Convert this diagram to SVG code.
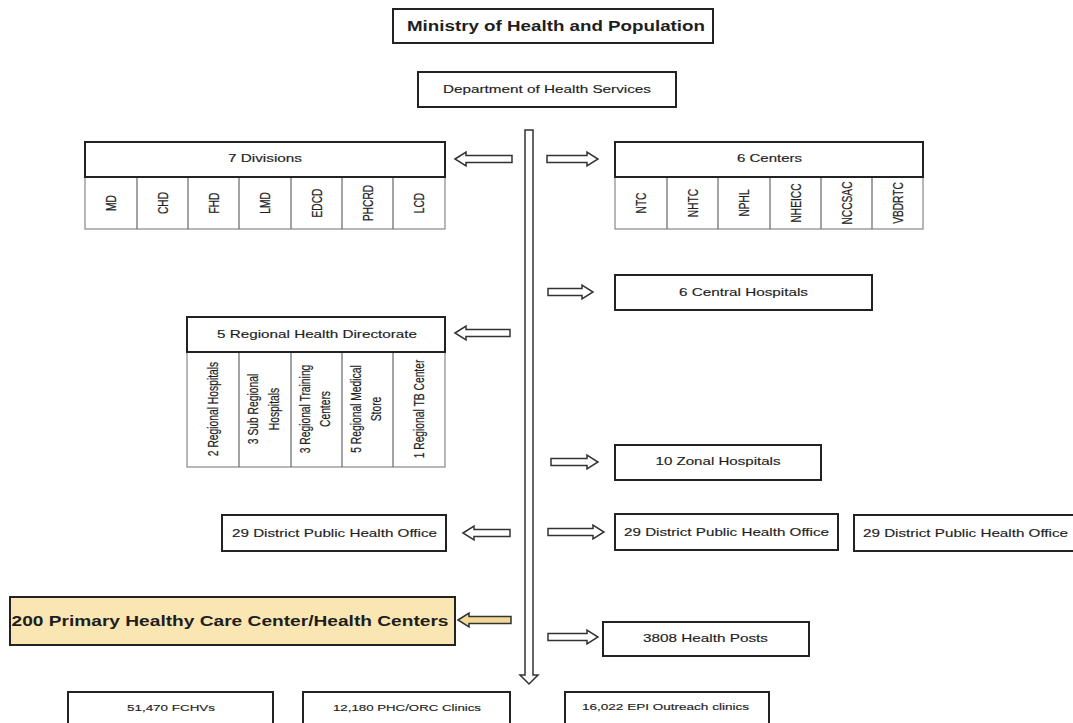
<svg xmlns="http://www.w3.org/2000/svg" width="1073" height="723" viewBox="0 0 1073 723">
<style>
  .box{fill:#fff;stroke:#222;stroke-width:2}
  .ybox{fill:#f9e6b3;stroke:#222;stroke-width:2}
  .grid{fill:#fff;stroke:#888;stroke-width:1.2}
  .div{stroke:#666;stroke-width:1.2}
  .arr{fill:#fff;stroke:#333;stroke-width:1.5;stroke-linejoin:miter}
  .yarr{fill:#f3d998;stroke:#333;stroke-width:1.5}
  text{font-family:"Liberation Sans",Arial,sans-serif;fill:#1e1e1e;stroke:#1e1e1e;stroke-width:0.15}
  .t{font-size:11.6px;text-anchor:middle}
  .b{font-weight:bold;stroke-width:0}
  .s{font-size:9.4px;text-anchor:middle}
  .r{font-size:10.2px;text-anchor:middle}
</style>
<rect width="1073" height="723" fill="#fff"/>

<g id="connectors">
  <path class="arr" d="M525,130 H533 V675 H538 L529,684 L520,675 H525 Z"/>
  <polygon class="arr" points="455,159 466,152 466,155.5 512,155.5 512,162.5 466,162.5 466,166"/>
  <polygon class="arr" points="455,333 466,326 466,329.5 510,329.5 510,336.5 466,336.5 466,340"/>
  <polygon class="arr" points="463,533 474,526 474,529.5 510,529.5 510,536.5 474,536.5 474,540"/>
  <polygon class="yarr" points="458,620 469,613 469,616.5 511,616.5 511,623.5 469,623.5 469,627"/>
  <polygon class="arr" points="547,155.5 587,155.5 587,152 598,159 587,166 587,162.5 547,162.5"/>
  <polygon class="arr" points="548,288.5 582,288.5 582,285 593,292 582,299 582,295.5 548,295.5"/>
  <polygon class="arr" points="551,458.5 587,458.5 587,455 598,462 587,469 587,465.5 551,465.5"/>
  <polygon class="arr" points="548,528.5 593,528.5 593,525 604,532 593,539 593,535.5 548,535.5"/>
  <polygon class="arr" points="548,633.5 587,633.5 587,630 598,637 587,644 587,640.5 548,640.5"/>
</g>

<g id="ministry">
  <rect class="box" x="393" y="9" width="320" height="34"/>
  <text class="t b" x="556" y="31" style="font-size:14.5px" textLength="298" lengthAdjust="spacingAndGlyphs">Ministry of Health and Population</text>
</g>

<g id="dohs">
  <rect class="box" x="418" y="72" width="258" height="35"/>
  <text class="t" x="547" y="93" textLength="208" lengthAdjust="spacingAndGlyphs">Department of Health Services</text>
</g>

<g id="divisions">
  <rect class="grid" x="85" y="177" width="360" height="52"/>
  <line class="div" x1="137" y1="177" x2="137" y2="229"/>
  <line class="div" x1="188" y1="177" x2="188" y2="229"/>
  <line class="div" x1="239" y1="177" x2="239" y2="229"/>
  <line class="div" x1="291" y1="177" x2="291" y2="229"/>
  <line class="div" x1="342" y1="177" x2="342" y2="229"/>
  <line class="div" x1="393" y1="177" x2="393" y2="229"/>
  <rect class="box" x="85" y="142" width="360" height="35"/>
  <text class="t" x="265" y="162" style="font-size:10.8px" textLength="74" lengthAdjust="spacingAndGlyphs">7 Divisions</text>
  <text class="r" transform="translate(116,203) rotate(-90) scale(1,1.4)">MD</text>
  <text class="r" transform="translate(167.5,203) rotate(-90) scale(1,1.4)">CHD</text>
  <text class="r" transform="translate(218.5,203) rotate(-90) scale(1,1.4)">FHD</text>
  <text class="r" transform="translate(270,203) rotate(-90) scale(1,1.4)">LMD</text>
  <text class="r" transform="translate(321.5,203) rotate(-90) scale(1,1.4)">EDCD</text>
  <text class="r" transform="translate(372.5,203) rotate(-90) scale(1,1.4)">PHCRD</text>
  <text class="r" transform="translate(424,203) rotate(-90) scale(1,1.4)">LCD</text>
</g>

<g id="centers">
  <rect class="grid" x="615" y="177" width="308" height="52"/>
  <line class="div" x1="667" y1="177" x2="667" y2="229"/>
  <line class="div" x1="718" y1="177" x2="718" y2="229"/>
  <line class="div" x1="770" y1="177" x2="770" y2="229"/>
  <line class="div" x1="821" y1="177" x2="821" y2="229"/>
  <line class="div" x1="872" y1="177" x2="872" y2="229"/>
  <rect class="box" x="615" y="142" width="308" height="35"/>
  <text class="t" x="769.5" y="162" style="font-size:10.8px" textLength="65" lengthAdjust="spacingAndGlyphs">6 Centers</text>
  <text class="r" transform="translate(646,203) rotate(-90) scale(1,1.4)">NTC</text>
  <text class="r" transform="translate(697.5,203) rotate(-90) scale(1,1.4)">NHTC</text>
  <text class="r" transform="translate(749,203) rotate(-90) scale(1,1.4)">NPHL</text>
  <text class="r" transform="translate(800.5,203) rotate(-90) scale(1,1.4)">NHEICC</text>
  <text class="r" transform="translate(851.5,203) rotate(-90) scale(1,1.4)">NCCSAC</text>
  <text class="r" transform="translate(902.5,203) rotate(-90) scale(1,1.4)">VBDRTC</text>
</g>

<g id="central-hospitals">
  <rect class="box" x="615" y="275" width="257" height="35"/>
  <text class="t" x="743.5" y="296" textLength="129" lengthAdjust="spacingAndGlyphs">6 Central Hospitals</text>
</g>

<g id="regional">
  <rect class="grid" x="187" y="352" width="258" height="115"/>
  <line class="div" x1="239" y1="352" x2="239" y2="467"/>
  <line class="div" x1="291" y1="352" x2="291" y2="467"/>
  <line class="div" x1="342" y1="352" x2="342" y2="467"/>
  <line class="div" x1="393" y1="352" x2="393" y2="467"/>
  <rect class="box" x="187" y="317" width="258" height="35"/>
  <text class="t" x="317" y="338" style="font-size:11.2px" textLength="200" lengthAdjust="spacingAndGlyphs">5 Regional Health Directorate</text>
  <text class="r" style="font-size:10.3px" transform="translate(217.5,409) rotate(-90) scale(1,1.4)">2 Regional Hospitals</text>
  <text class="r" style="font-size:10.3px" transform="translate(258,409) rotate(-90) scale(1,1.4)">3 Sub Regional</text>
  <text class="r" style="font-size:10.3px" transform="translate(278.5,409) rotate(-90) scale(1,1.4)">Hospitals</text>
  <text class="r" style="font-size:10.3px" transform="translate(309.5,409) rotate(-90) scale(1,1.4)">3 Regional Training</text>
  <text class="r" style="font-size:10.3px" transform="translate(330,409) rotate(-90) scale(1,1.4)">Centers</text>
  <text class="r" style="font-size:10.3px" transform="translate(360.5,409) rotate(-90) scale(1,1.4)">5 Regional Medical</text>
  <text class="r" style="font-size:10.3px" transform="translate(381,409) rotate(-90) scale(1,1.4)">Store</text>
  <text class="r" style="font-size:10.3px" transform="translate(423.5,409) rotate(-90) scale(1,1.4)">1 Regional TB Center</text>
</g>

<g id="zonal-hospitals">
  <rect class="box" x="615" y="445" width="206" height="35"/>
  <text class="t" x="718" y="465" textLength="125" lengthAdjust="spacingAndGlyphs">10 Zonal Hospitals</text>
</g>

<g id="dpho-left">
  <rect class="box" x="222" y="515" width="224" height="36"/>
  <text class="t" x="334.5" y="536.5" textLength="205" lengthAdjust="spacingAndGlyphs">29 District Public Health Office</text>
</g>

<g id="dpho-right-1">
  <rect class="box" x="615" y="514" width="223" height="36"/>
  <text class="t" x="726.5" y="535.5" textLength="205" lengthAdjust="spacingAndGlyphs">29 District Public Health Office</text>
</g>

<g id="dpho-right-2">
  <rect class="box" x="854" y="515" width="226" height="36"/>
  <text class="t" x="965.5" y="536.5" textLength="205" lengthAdjust="spacingAndGlyphs">29 District Public Health Office</text>
</g>

<g id="phc">
  <rect class="ybox" x="10" y="597" width="445" height="48"/>
  <text class="t b" x="230" y="626" style="font-size:14px" textLength="437" lengthAdjust="spacingAndGlyphs">200 Primary Healthy Care Center/Health Centers</text>
</g>

<g id="health-posts">
  <rect class="box" x="603" y="622" width="206" height="34"/>
  <text class="t" x="705.5" y="642" textLength="125" lengthAdjust="spacingAndGlyphs">3808 Health Posts</text>
</g>

<g id="fchv">
  <rect class="box" x="68" y="692" width="205" height="40"/>
  <text class="s" x="171" y="711" textLength="88" lengthAdjust="spacingAndGlyphs">51,470 FCHVs</text>
</g>

<g id="phc-orc">
  <rect class="box" x="303" y="692" width="207" height="40"/>
  <text class="s" x="407" y="711" textLength="148" lengthAdjust="spacingAndGlyphs">12,180 PHC/ORC Clinics</text>
</g>

<g id="epi">
  <rect class="box" x="565" y="692" width="204" height="40"/>
  <text class="s" x="665.5" y="710" textLength="167" lengthAdjust="spacingAndGlyphs">16,022 EPI Outreach clinics</text>
</g>
</svg>
